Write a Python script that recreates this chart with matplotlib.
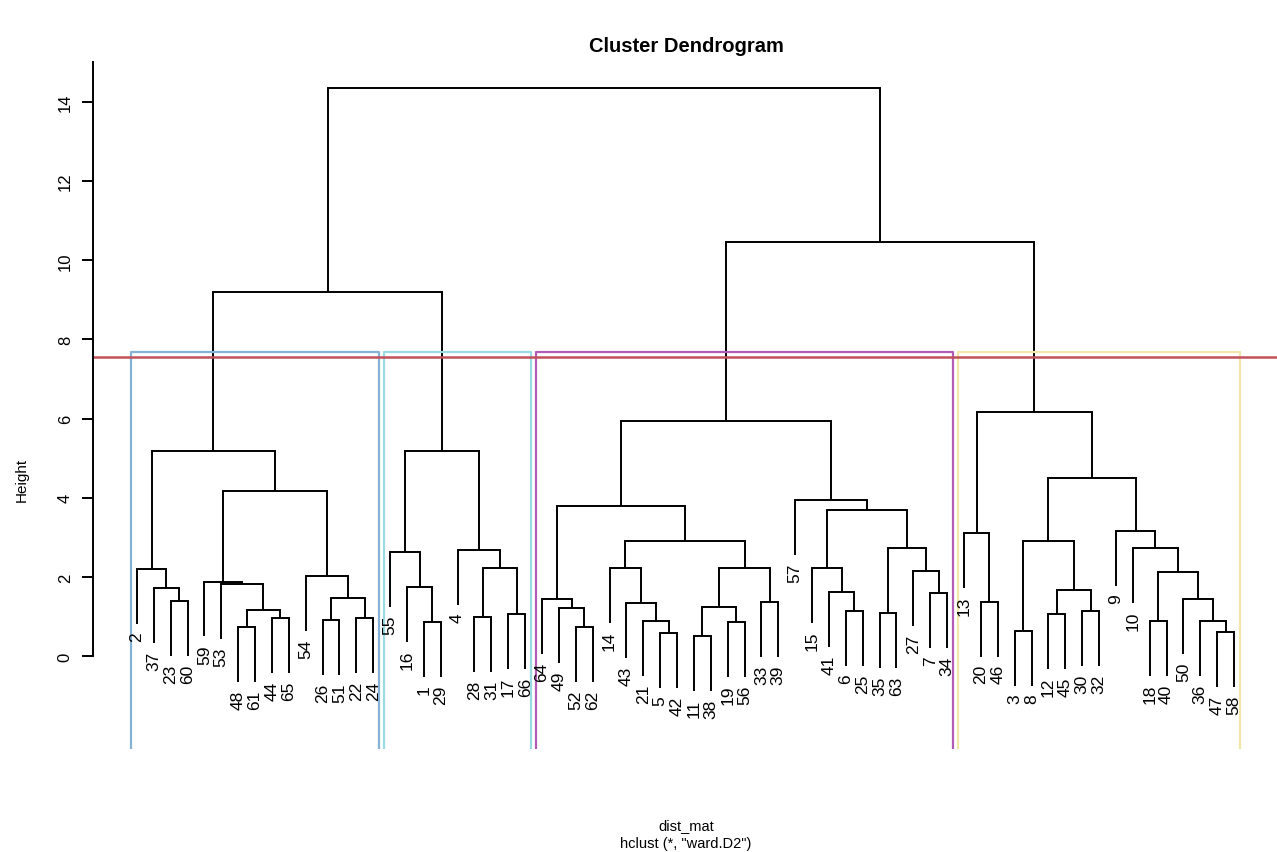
import matplotlib
matplotlib.use("Agg")
import matplotlib.pyplot as plt

plt.rcParams['font.family'] = ['Liberation Sans', 'DejaVu Sans']

# merges as (height, left, right); leaves are the labels
cluster1 = (5.18,
            (2.20, "2", (1.72, "37", (1.39, "23", "60"))),
            (4.17,
             (1.88, "59", (1.82, "53", (1.16, (0.73, "48", "61"), (0.96, "44", "65")))),
             (2.02, "54", (1.47, (0.91, "26", "51"), (0.96, "22", "24")))))

cluster2 = (5.18,
            (2.63, "55", (1.74, "16", (0.86, "1", "29"))),
            (2.68, "4", (2.22, (0.99, "28", "31"), (1.06, "17", "66"))))

cluster3 = (5.94,
            (3.79,
             (1.44, "64", (1.21, "49", (0.73, "52", "62"))),
             (2.90,
              (2.22, "14", (1.34, "43", (0.88, "21", (0.58, "5", "42")))),
              (2.22, (1.24, (0.50, "11", "38"), (0.86, "19", "56")), (1.36, "33", "39")))),
            (3.94, "57",
             (3.69,
              (2.22, "15", (1.62, "41", (1.14, "6", "25"))),
              (2.73, (1.09, "35", "63"), (2.15, "27", (1.59, "7", "34"))))))

cluster4 = (6.17,
            (3.10, "13", (1.37, "20", "46")),
            (4.50,
             (2.90, (0.63, "3", "8"), (1.67, (1.06, "12", "45"), (1.14, "30", "32"))),
             (3.16, "9", (2.73, "10", (2.13, (0.88, "18", "40"),
                                       (1.44, "50", (0.88, "36", (0.61, "47", "58"))))))))

top_heights = [9.20, 10.46, 14.35]
tree = (top_heights[2], (top_heights[0], cluster1, cluster2), (top_heights[1], cluster3, cluster4))

clusters = [cluster1, cluster2, cluster3, cluster4]
rect_colors = ["#84b1d6", "#9adbe3", "#b25cb8", "#f0e7a8"]
cut_height = 7.55

yticks = [0, 2, 4, 6, 8, 10, 12, 14]


def leaves(node):
    if isinstance(node, str):
        return [node]
    return leaves(node[1]) + leaves(node[2])


def min_height(node):
    if isinstance(node, str):
        return 99
    return min(node[0], min_height(node[1]), min_height(node[2]))


hang = 0.1 * (tree[0] - min_height(tree))
pos = {}
for i, lab in enumerate(leaves(tree)):
    pos[lab] = i + 1

fig = plt.figure(figsize=(12.77, 8.53), dpi=100)
ax = fig.add_axes([93 / 1277, (853 - 750) / 853, (1277 - 93) / 1277, (750 - 40) / 853])
px = 16.88  # pixels per leaf
ax.set_xlim(-1.6, -1.6 + (1277 - 93) / px)
ax.set_ylim(-2.35, -2.35 + (750 - 40) / 39.57)


def draw(node):
    # returns x position of node
    h, l, r = node
    xs = []
    for child in (l, r):
        if isinstance(child, str):
            x = pos[child]
            y0 = h - hang
            ax.plot([x, x], [y0, h], color="black", lw=1.4, solid_capstyle="butt")
            ax.annotate(child, (x, y0), xytext=(0, -5.5), textcoords="offset points",
                        rotation=90, ha="center", va="top", fontsize=12.5)
        else:
            x = draw(child)
            ax.plot([x, x], [child[0], h], color="black", lw=1.4, solid_capstyle="butt")
        xs.append(x)
    ax.plot(xs, [h, h], color="black", lw=1.4, solid_capstyle="projecting")
    return (xs[0] + xs[1]) / 2


draw(tree)

# cluster rectangles (rect.hclust style)
rect_top = (top_heights[0] + cluster4[0]) / 2
start = 0
for cl, col in zip(clusters, rect_colors):
    n = len(leaves(cl))
    xl, xr = start + 0.66, start + n + 0.33
    ax.plot([xl, xl, xr, xr], [-2.35, rect_top, rect_top, -2.35], color=col, lw=1.6)
    start += n

ax.axhline(cut_height, color="#c0505a", lw=1.8)

for s in ["top", "right", "bottom"]:
    ax.spines[s].set_visible(False)
ax.spines["left"].set_bounds(0, 15)
ax.spines["left"].set_linewidth(1.4)
ax.set_xticks([])
ax.set_yticks(yticks)
ax.set_yticklabels([str(t) for t in yticks], rotation=90, va="center", fontsize=12)
ax.tick_params(axis="y", length=8, width=1.4, pad=6.5)

fig.text(22 / 1277, 1 - 480 / 853, "Height", rotation=90, ha="center", va="center", fontsize=11)
fig.text(686 / 1277, 1 - 47 / 853, "Cluster Dendrogram", ha="center", va="center",
         fontsize=14.5, fontweight="bold")
fig.text(686 / 1277, 1 - 826 / 853, "dist_mat", ha="center", va="center", fontsize=10.5)
fig.text(686 / 1277, 1 - 844 / 853, 'hclust (*, "ward.D2")', ha="center", va="center", fontsize=10.5)

fig.savefig("out.png", dpi=100)
